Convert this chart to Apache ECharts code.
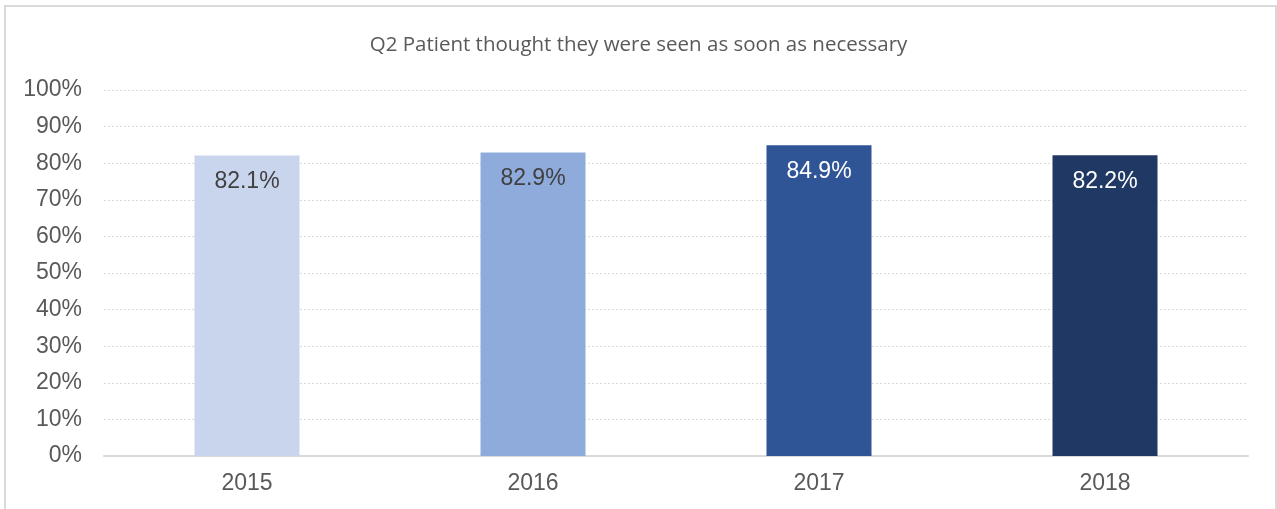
<!DOCTYPE html>
<html>
<head>
<meta charset="utf-8">
<script src="https://cdn.jsdelivr.net/npm/echarts@6/dist/echarts.min.js"></script>
<style>
  html, body { margin: 0; padding: 0; background: #fff; }
  #chart { width: 1277px; height: 509px; }
</style>
</head>
<body>
<div id="chart"></div>
<script>
// chart data
let years = ['2015', '2016', '2017', '2018']
let scores = [82.1, 82.9, 84.9, 82.2]
let barColors = ['#c9d5ed', '#8fabdc', '#2f5597', '#203864']
let labelColors = ['#404040', '#404040', '#ffffff', '#ffffff']

let chart = echarts.init(document.getElementById('chart'));

let option = {
    animation: false,
    graphic: [{
        type: 'rect',
        shape: { x: 5, y: 6, width: 1271, height: 510 },
        style: { fill: 'none', stroke: '#d9d9d9', lineWidth: 2 },
        silent: true
    }],
    title: {
        text: 'Q2 Patient thought they were seen as soon as necessary',
        left: 'center',
        top: 30,
        textStyle: {
            fontFamily: 'Open Sans',
            fontWeight: 'normal',
            fontSize: 20.5,
            color: '#595959'
        }
    },
    grid: {
        left: 104,
        right: 29,
        top: 90,
        bottom: 53
    },
    xAxis: {
        type: 'category',
        data: years,
        axisLine: { lineStyle: { color: '#d9d9d9', width: 2 } },
        axisTick: { show: false },
        axisLabel: {
            fontFamily: 'Liberation Sans',
            fontSize: 23,
            color: '#595959',
            margin: 16
        }
    },
    yAxis: {
        type: 'value',
        min: 0,
        max: 100,
        interval: 10,
        axisLine: { show: false },
        axisTick: { show: false },
        axisLabel: {
            formatter: '{value}%',
            fontFamily: 'Liberation Sans',
            fontSize: 23,
            color: '#595959',
            margin: 22
        },
        splitLine: {
            lineStyle: { color: '#d9d9d9', type: [2, 2], width: 1 }
        }
    },
    series: [{
        type: 'bar',
        barWidth: 105,
        data: scores.map(function(v, i) {
            return {
                value: v,
                itemStyle: { color: barColors[i] },
                label: { color: labelColors[i] }
            }
        }),
        label: {
            show: true,
            position: 'insideTop',
            distance: 15,
            formatter: function(p) { return p.value.toFixed(1) + '%' },
            fontFamily: 'Liberation Sans',
            fontSize: 23
        }
    }]
};

chart.setOption(option);
</script>
</body>
</html>
